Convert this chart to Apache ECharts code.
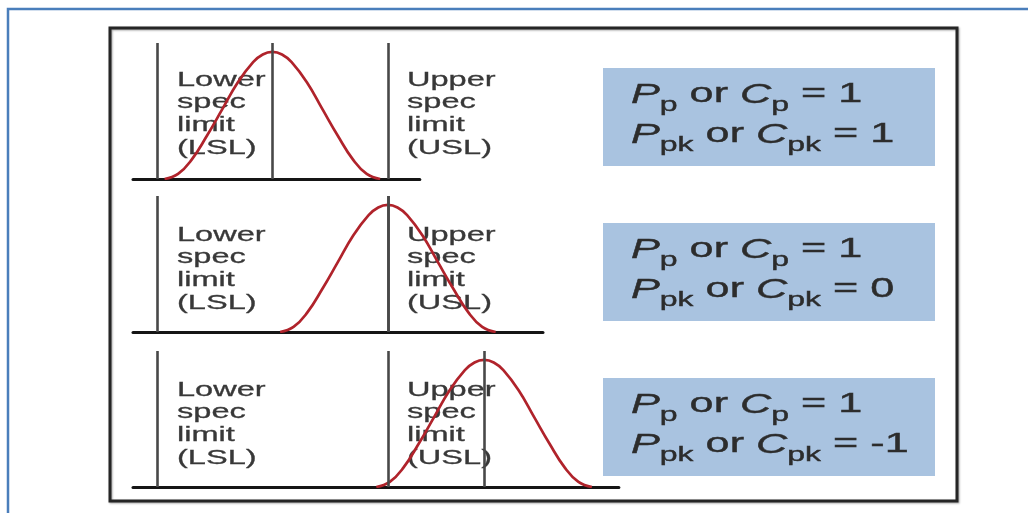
<!DOCTYPE html>
<html>
<head>
<meta charset="utf-8">
<script src="https://cdn.jsdelivr.net/npm/echarts@6/dist/echarts.min.js"></script>
<style>
html,body{margin:0;padding:0;background:#fff;}
#chart{width:1028px;height:513px;}
</style>
</head>
<body>
<div id="chart"></div>
<script>
// ---- data (x in sigma-of-spec units: LSL = -3, USL = +3) ----
const specLimits = [-3, 3];                 // LSL, USL
const processMeans = [0, 3, 5.5];           // mean of each panel's process
const curveOffsets = [-2.8, -2.45, -2.1, -1.7, -1.3, -0.9, -0.5, -0.25, 0, 0.25, 0.5, 0.9, 1.3, 1.7, 2.1, 2.45, 2.8];
const curveHeights = [0, 4, 15, 34, 55, 76, 92, 98, 100, 98, 92, 76, 55, 34, 15, 4, 0];
const axisMin = -3.62;
const axisMax = [3.83, 7.03, 9.0];
const cpValues = ['1', '1', '1'];
const cpkValues = ['1', '0', '-1'];
const lowerLabel = 'Lower\nspec\nlimit\n(LSL)';
const upperLabel = 'Upper\nspec\nlimit\n(USL)';

// ---- layout ----
const FONT = '"Liberation Sans", Arial, Helvetica, sans-serif';
const baselines = [179, 332, 487];
const gridH = 136;
const gridLeft = 133;
const pxPerUnit = 38.5;
const yMax = 107;
const labelCenters = [80, 235, 390];
const boxTops = [68, 223, 378];
const TXT = '#383838';

const chart = echarts.init(document.getElementById('chart'), null, {renderer: 'canvas'});

const grids = [], xAxes = [], yAxes = [], series = [], graphics = [];

// frames
graphics.push({type: 'rect', shape: {x: 8, y: 9, width: 1100, height: 600},
  style: {fill: 'none', stroke: '#4a7ebb', lineWidth: 2.5}, z: 0});
graphics.push({type: 'rect', shape: {x: 110, y: 28, width: 847, height: 473},
  style: {fill: 'none', stroke: '#252525', lineWidth: 3,
    shadowColor: 'rgba(0,0,0,0.35)', shadowBlur: 2, shadowOffsetX: 1, shadowOffsetY: 1}, z: 0});

processMeans.forEach((mean, i) => {
  const w = (axisMax[i] - axisMin) * pxPerUnit;
  grids.push({left: gridLeft, top: baselines[i] - gridH, width: w, height: gridH});
  xAxes.push({type: 'value', gridIndex: i, min: axisMin, max: axisMax[i],
    axisLine: {show: true, onZero: false, lineStyle: {color: '#151515', width: 3}},
    axisTick: {show: false}, axisLabel: {show: false}, splitLine: {show: false}});
  yAxes.push({type: 'value', gridIndex: i, min: 0, max: yMax, show: false,
    splitLine: {show: false}});
  const vLines = [specLimits[0], specLimits[1], mean];
  series.push({
    type: 'line', xAxisIndex: i, yAxisIndex: i,
    data: curveOffsets.map((o, k) => [mean + o, curveHeights[k]]),
    smooth: 0.45, symbol: 'none', silent: true, animation: false, z: 3,
    lineStyle: {color: '#b0232b', width: 2.7},
    markLine: {
      silent: true, animation: false, symbol: ['none', 'none'],
      label: {show: false},
      lineStyle: {color: '#484848', width: 2.6, type: 'solid'},
      data: vLines.map(x => ({xAxis: x}))
    }
  });

  // labels
  [[177, lowerLabel], [407, upperLabel]].forEach(([lx, lab]) => {
    graphics.push({type: 'text', x: lx, y: labelCenters[i] - 11.35, scaleX: 1.55, z: 1,
      style: {text: lab, font: '21px ' + FONT, fill: TXT, stroke: TXT, lineWidth: 0.3,
        lineHeight: 22.7, align: 'left', verticalAlign: 'top'}});
  });

  // blue box
  graphics.push({type: 'rect', shape: {x: 603, y: boxTops[i], width: 332, height: 98},
    style: {fill: '#a9c3e0'}, z: 1});
  const txt = '{i|P}{s|p}{n| or }{i|C}{s|p}{n| = ' + cpValues[i] + '}\n' +
              '{i|P}{s|pk}{n| or }{i|C}{s|pk}{n| = ' + cpkValues[i] + '}';
  const base = {fontFamily: FONT, fill: '#2c2c2c', color: '#2c2c2c', stroke: '#2c2c2c', lineWidth: 0.4};
  graphics.push({type: 'text', x: 631, y: boxTops[i] + 7, scaleX: 1.6, z: 2,
    style: {text: txt, align: 'left', verticalAlign: 'top', fill: '#2c2c2c',
      rich: {
        i: Object.assign({}, base, {fontSize: 27, fontStyle: 'italic', lineHeight: 40}),
        n: Object.assign({}, base, {fontSize: 27, lineHeight: 40}),
        s: Object.assign({}, base, {fontSize: 20, lineHeight: 38, verticalAlign: 'bottom'})
      }}});
});

chart.setOption({
  animation: false,
  backgroundColor: '#ffffff',
  grid: grids, xAxis: xAxes, yAxis: yAxes, series: series,
  graphic: graphics
});
</script>
</body>
</html>
